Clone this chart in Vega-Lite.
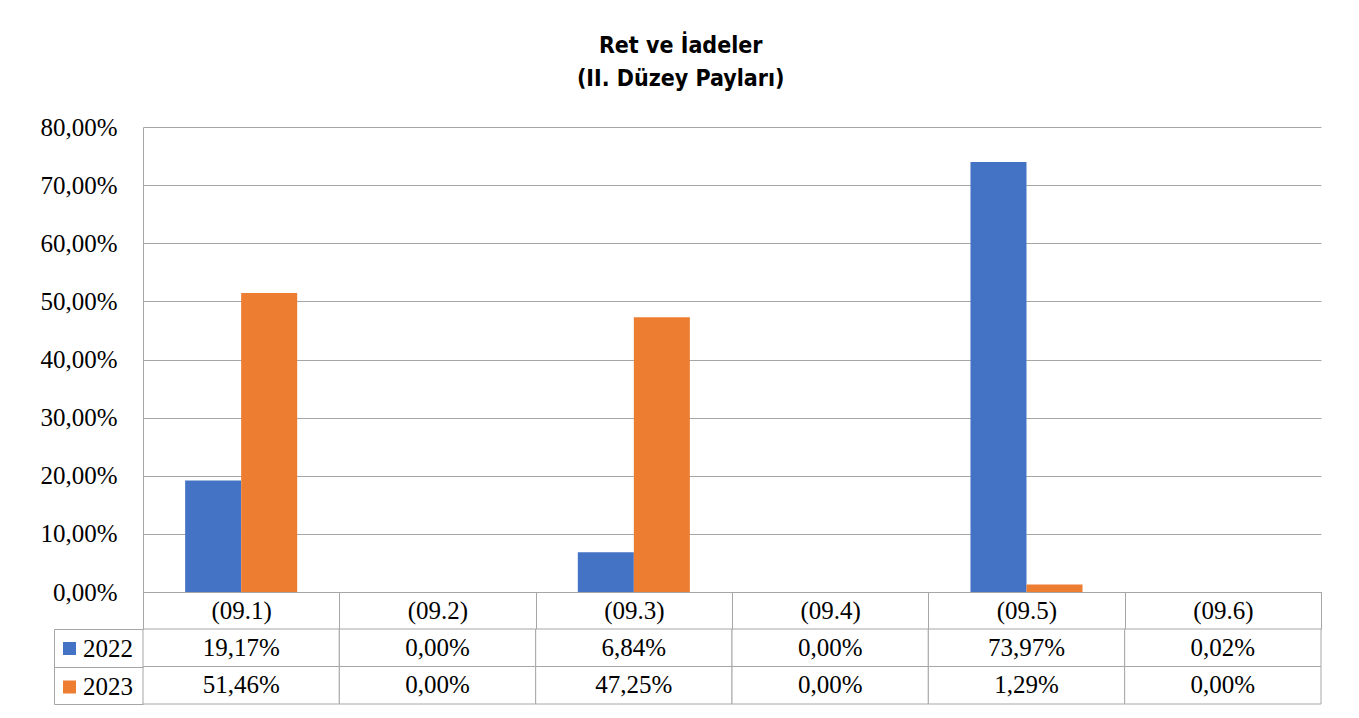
{
  "$schema": "https://vega.github.io/schema/vega-lite/v6.json",
  "padding": {"left": 39, "top": 35, "right": 37, "bottom": 13},
  "background": "white",
  "title": {
    "text": ["Ret ve İadeler", "(II. Düzey Payları)"],
    "font": "Liberation Sans Narrow, DejaVu Sans Condensed, sans-serif",
    "fontWeight": "bold",
    "fontSize": 23,
    "lineHeight": 33,
    "color": "black",
    "anchor": "middle",
    "offset": 24
  },
  "data": {
    "values": [
      {"cat": "(09.1)", "year": "2022", "value": 0.1917},
      {"cat": "(09.1)", "year": "2023", "value": 0.5146},
      {"cat": "(09.2)", "year": "2022", "value": 0.0},
      {"cat": "(09.2)", "year": "2023", "value": 0.0},
      {"cat": "(09.3)", "year": "2022", "value": 0.0684},
      {"cat": "(09.3)", "year": "2023", "value": 0.4725},
      {"cat": "(09.4)", "year": "2022", "value": 0.0},
      {"cat": "(09.4)", "year": "2023", "value": 0.0},
      {"cat": "(09.5)", "year": "2022", "value": 0.7397},
      {"cat": "(09.5)", "year": "2023", "value": 0.0129},
      {"cat": "(09.6)", "year": "2022", "value": 0.0002},
      {"cat": "(09.6)", "year": "2023", "value": 0.0}
    ]
  },
  "bounds": "flush",
  "spacing": 37,
  "vconcat": [
    {
      "width": 1178,
      "height": 465,
      "mark": {"type": "bar"},
      "encoding": {
        "x": {
          "field": "cat",
          "type": "nominal",
          "sort": null,
          "scale": {"paddingInner": 0, "paddingOuter": 0},
          "axis": {
            "title": null,
            "labelAngle": 0,
            "labelFont": "Liberation Serif",
            "labelFontSize": 25,
            "labelColor": "black",
            "labelPadding": -31,
            "domainColor": "#A6A6A6",
            "ticks": true,
            "tickBand": "extent",
            "tickSize": 37,
            "tickColor": "#A6A6A6",
            "grid": false
          }
        },
        "xOffset": {
          "field": "year",
          "type": "nominal",
          "scale": {"paddingInner": 0, "paddingOuter": 0.7525}
        },
        "y": {
          "field": "value",
          "type": "quantitative",
          "scale": {"domain": [0, 0.8], "nice": false},
          "axis": {
            "title": null,
            "values": [0, 0.1, 0.2, 0.3, 0.4, 0.5, 0.6, 0.7, 0.8],
            "format": ".2%",
            "labelFont": "Liberation Serif",
            "labelFontSize": 25,
            "labelColor": "black",
            "labelPadding": 26,
            "ticks": false,
            "domainColor": "#A6A6A6",
            "gridColor": "#A6A6A6"
          }
        },
        "color": {
          "field": "year",
          "type": "nominal",
          "scale": {"domain": ["2022", "2023"], "range": ["#4472C4", "#ED7D31"]},
          "legend": {
            "title": null,
            "orient": "none",
            "legendX": -86,
            "legendY": 509,
            "padding": 0,
            "symbolType": "square",
            "symbolSize": 169,
            "symbolStrokeWidth": 0,
            "labelFont": "Liberation Serif",
            "labelFontSize": 25,
            "labelColor": "black",
            "labelOffset": 1,
            "rowPadding": 12.5
          }
        }
      }
    },
    {
      "width": 1178,
      "height": 75,
      "encoding": {
        "x": {
          "field": "cat",
          "type": "nominal",
          "sort": null,
          "scale": {"paddingInner": 0, "paddingOuter": 0},
          "axis": null
        },
        "y": {
          "field": "year",
          "type": "nominal",
          "scale": {"paddingInner": 0, "paddingOuter": 0},
          "axis": {
            "title": null,
            "orient": "left",
            "offset": 89,
            "labels": false,
            "domainColor": "#A6A6A6",
            "tickBand": "extent",
            "tickSize": -89,
            "tickColor": "#A6A6A6",
            "grid": false
          }
        }
      },
      "layer": [
        {
          "mark": {"type": "rect", "fill": "white", "stroke": "#A6A6A6", "strokeWidth": 1}
        },
        {
          "mark": {"type": "text", "font": "Liberation Serif", "fontSize": 25, "color": "black"},
          "encoding": {
            "text": {"field": "value", "type": "quantitative", "format": ".2%"}
          }
        }
      ]
    }
  ],
  "config": {
    "locale": {
      "number": {"decimal": ",", "thousands": ".", "grouping": [3], "currency": ["₺", ""]}
    },
    "view": {"stroke": null},
    "axis": {"domainWidth": 1, "tickWidth": 1, "gridWidth": 1}
  }
}
